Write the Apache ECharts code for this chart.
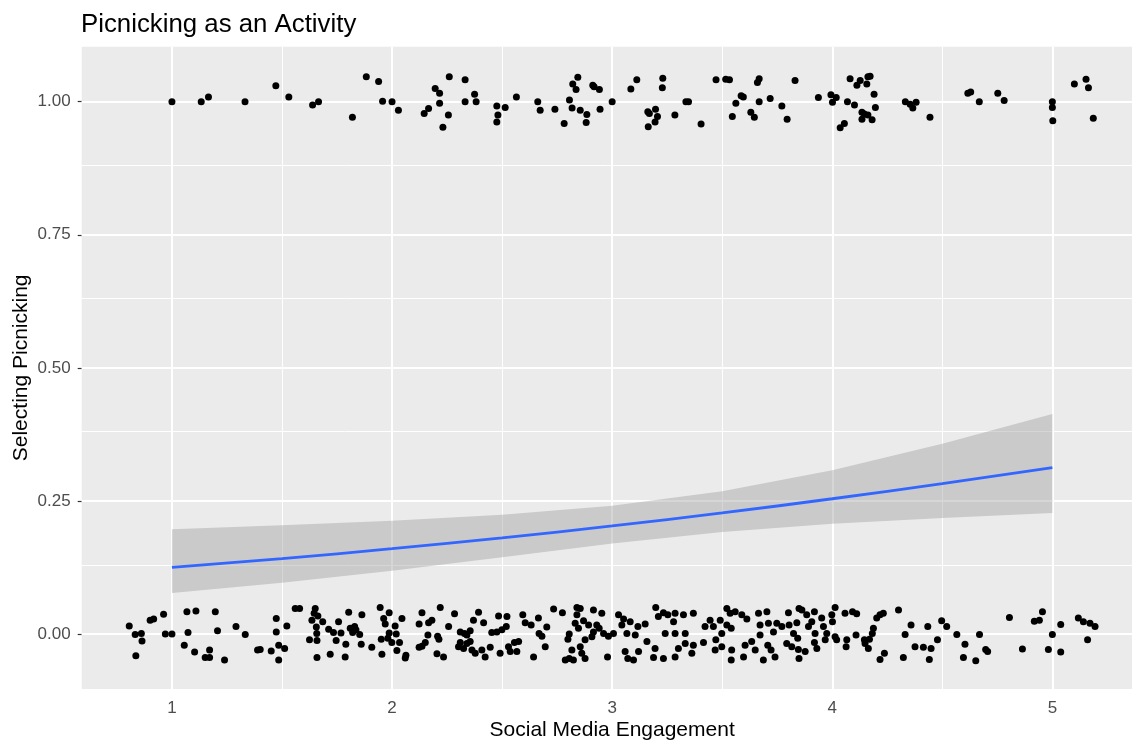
<!DOCTYPE html>
<html>
<head>
<meta charset="utf-8">
<script src="https://cdn.jsdelivr.net/npm/echarts@6/dist/echarts.min.js"></script>
<style>html,body{margin:0;padding:0;background:#fff}#c{width:1132px;height:742px}</style>
</head>
<body>
<div id="c"></div>
<script>
// ---- data ----
const titleText = 'Picnicking as an Activity';
const xTitle = 'Social Media Engagement';
const yTitle = 'Selecting Picnicking';
const xTicks = [1, 2, 3, 4, 5];
const xTickLabels = ['1', '2', '3', '4', '5'];
const yTicks = [0, 0.25, 0.5, 0.75, 1];
const yTickLabels = ['0.00', '0.25', '0.50', '0.75', '1.00'];
const xMinor = [1.5, 2.5, 3.5, 4.5];
const yMinor = [0.125, 0.375, 0.625, 0.875];

// fitted logistic curve and confidence band
const fitX = [1, 1.5, 2, 2.5, 3, 3.5, 4, 4.5, 5];
const fitY = [0.125, 0.1417, 0.1603, 0.1807, 0.2031, 0.2276, 0.2541, 0.2825, 0.3127];
const bandLow = [0.0769, 0.0961, 0.1187, 0.1443, 0.1701, 0.1916, 0.2070, 0.2181, 0.2272];
const bandHigh = [0.1970, 0.2042, 0.2129, 0.2241, 0.2409, 0.2681, 0.3078, 0.3572, 0.4132];

// jittered observations: selected picnicking (1)
const selectedPts = [
[1.000,1.000],[1.133,1.000],[1.166,1.009],[1.332,1.000],[1.472,1.030],[1.531,1.009],[1.639,0.994],[1.666,1.000],[1.820,0.971],[1.883,1.047],[1.939,1.038],[1.957,1.001],[2.000,1.000],[2.029,0.984],[2.146,0.978],[2.166,0.987],[2.196,1.025],[2.216,1.016],[2.216,0.997],[2.256,0.975],[2.231,0.952],[2.260,1.047],
[2.332,1.041],[2.332,1.000],[2.375,1.014],[2.382,1.000],[2.476,0.992],[2.481,0.975],[2.476,0.962],[2.514,0.989],[2.565,1.009],[2.662,1.000],[2.673,0.984],[2.740,0.986],[2.782,0.959],[2.806,1.003],[2.818,0.988],[2.821,1.033],[2.844,1.046],[2.836,1.023],[2.855,0.984],[2.885,0.976],[2.882,0.961],[2.912,1.031],[2.918,1.028],[2.942,1.023],[2.945,0.986],[3.000,1.000],[3.085,1.024],[3.112,1.041],[3.162,0.981],[3.169,0.978],[3.197,0.986],[3.206,0.972],[3.195,0.962],[3.164,0.953],[3.230,1.044],[3.228,1.026],[3.285,0.975],[3.335,1.000],[3.347,1.000],[3.404,0.958],[3.472,1.041],[3.516,1.042],[3.533,1.041],[3.562,0.997],[3.586,1.011],[3.596,1.009],[3.546,0.972],[3.630,0.980],[3.646,0.971],[3.660,1.036],[3.668,1.043],[3.668,1.000],[3.718,1.006],[3.771,0.992],[3.795,0.967],[3.831,1.040],[3.937,1.008],
[3.994,1.013],[4.001,0.999],[4.018,1.008],[4.036,0.951],[4.055,0.959],[4.069,1.000],[4.081,1.043],[4.101,0.994],[4.112,1.031],[4.127,1.040],[4.157,1.033],[4.162,1.047],[4.172,1.048],[4.190,1.014],[4.135,0.980],[4.146,0.977],[4.135,0.967],[4.162,0.975],[4.181,0.966],[4.196,0.989],[4.332,1.000],[4.354,0.995],[4.366,0.988],[4.381,0.999],[4.444,0.971],[4.616,1.016],[4.629,1.018],[4.668,1.000],[4.752,1.016],[4.781,1.002],[5.000,1.000],[5.000,0.989],[5.002,0.964],[5.100,1.033],[5.153,1.042],[5.164,1.026],[5.186,0.969]
];

// jittered observations: did not select picnicking (0)
const notSelectedPts = [
[0.806,0.015],[0.833,-0.001],[0.861,0.001],[0.864,-0.013],[0.836,-0.041],[0.901,0.026],[0.917,0.028],[0.962,0.037],[0.970,0.000],[1.000,0.000],[1.068,0.042],[1.109,0.043],[1.073,0.003],[1.056,-0.021],[1.103,-0.034],[1.171,-0.030],[1.151,-0.044],[1.171,-0.044],[1.197,0.042],[1.207,0.006],[1.239,-0.049],[1.291,0.014],[1.333,-0.001],[1.389,-0.030],[1.401,-0.029],[1.451,-0.032],[1.474,0.029],[1.474,0.004],[1.485,-0.021],[1.512,-0.027],[1.485,-0.049],[1.522,0.015],[1.560,0.048],[1.580,0.048],[1.651,0.048],[1.646,0.039],[1.636,0.026],[1.663,0.034],[1.656,0.013],[1.658,0.001],[1.625,-0.011],[1.659,-0.012],[1.659,-0.044],[1.685,0.023],[1.712,0.009],[1.719,-0.038],[1.734,0.003],[1.757,0.023],[1.746,-0.012],[1.768,0.002],[1.787,-0.043],[1.790,-0.019],[1.803,0.041],[1.810,0.011],[1.830,0.014],[1.821,0.003],[1.836,0.008],[1.853,-0.001],[1.863,0.036],[1.860,-0.019],[1.908,-0.025],[1.946,0.050],[1.962,0.029],[1.987,0.040],[1.969,0.019],[1.987,0.002],[1.981,-0.008],[1.999,-0.016],[2.014,0.015],[2.019,0.000],[2.034,-0.016],[2.022,-0.031],[2.045,0.029],[2.063,-0.040],[2.060,-0.045],[1.951,-0.010],[1.954,-0.038],[2.136,0.040],[2.123,0.019],[2.166,0.021],[2.181,0.026],[2.219,0.050],[2.163,-0.002],[2.207,-0.004],[2.123,-0.025],[2.136,-0.023],[2.151,-0.016],[2.204,-0.037],[2.234,-0.043],[2.213,-0.010],
[2.257,0.014],[2.284,0.038],[2.310,0.004],[2.329,0.001],[2.355,0.006],[2.340,-0.002],[2.310,-0.016],[2.302,-0.024],[2.325,-0.027],[2.340,-0.018],[2.355,-0.014],[2.363,-0.030],[2.378,-0.036],[2.393,0.041],[2.370,0.026],[2.416,0.021],[2.408,-0.030],[2.423,-0.043],[2.446,-0.025],[2.453,0.003],[2.476,0.004],[2.484,0.034],[2.491,-0.036],[2.499,0.008],[2.519,0.014],[2.522,0.033],[2.529,-0.024],[2.537,-0.033],[2.556,-0.016],[2.567,-0.033],[2.575,-0.014],[2.594,0.036],[2.605,0.021],[2.632,0.017],[2.643,-0.043],[2.665,0.030],[2.668,0.001],[2.681,-0.004],[2.696,-0.024],[2.703,0.013],[2.734,0.047],[2.774,0.040],[2.805,0.000],[2.799,-0.010],[2.787,-0.049],[2.805,-0.046],[2.824,-0.049],[2.817,-0.030],[2.840,0.050],[2.855,0.048],[2.840,0.036],[2.832,0.020],[2.847,0.011],[2.870,0.025],[2.893,0.017],[2.915,0.045],[2.877,-0.011],[2.855,-0.024],[2.862,-0.036],[2.877,-0.046],[2.908,-0.005],[2.915,0.004],[2.930,0.017],[2.941,0.011],[2.953,0.039],[2.961,0.001],[2.983,-0.004],[2.979,-0.043],[3.006,0.001],[3.029,0.036],[3.044,0.017],[3.052,0.028],[3.067,0.001],[3.082,0.023],[3.059,-0.033],[3.071,-0.046],[3.097,-0.049],[3.105,-0.002],[3.117,0.014],[3.120,-0.033],[3.150,0.019],[3.158,-0.014],[3.188,-0.044],[3.195,-0.027],[3.198,0.050],[3.210,0.033],[3.233,0.040],[3.241,0.001],[3.253,0.036],[3.279,0.023],[3.286,0.039],[3.286,0.001],[3.233,-0.046],[3.286,-0.043],[3.301,-0.027],[3.324,0.036],[3.332,0.001],[3.332,-0.018],[3.362,-0.036],[3.369,0.039],[3.369,-0.021],[3.415,-0.016],[3.445,0.026],[3.460,0.014],[3.471,-0.011],[3.468,-0.030],[3.491,0.026],[3.498,-0.024],[3.521,0.048],[3.521,0.017],[3.536,0.039],[3.541,0.011],[3.543,-0.030],[3.541,-0.049],[3.559,0.042],[3.589,0.036],[3.612,0.028],[3.604,-0.021],[3.597,-0.043],[3.634,-0.014],[3.650,-0.030],[3.665,0.039],[3.672,0.017],[3.672,-0.002],[3.687,-0.049],[3.703,0.042],[3.710,0.020],[3.707,-0.021],[3.722,-0.030],[3.733,0.004],[3.498,0.001],[3.422,0.014],
[3.748,0.020],[3.740,-0.043],[3.771,0.014],[3.801,0.040],[3.804,0.017],[3.793,-0.018],[3.816,-0.024],[3.824,0.001],[3.839,0.021],[3.849,0.048],[3.862,0.045],[3.843,-0.008],[3.846,-0.029],[3.849,-0.046],[3.877,-0.033],[3.884,0.036],[3.892,0.014],[3.907,0.023],[3.919,0.042],[3.922,0.001],[3.919,-0.016],[3.930,-0.027],[3.952,0.030],[3.960,0.014],[3.968,-0.011],[3.975,0.001],[3.998,0.036],[4.001,0.023],[4.013,0.050],[4.013,-0.005],[4.020,-0.011],[4.058,0.039],[4.092,0.042],[4.111,0.038],[4.108,-0.002],[4.066,-0.011],[4.063,-0.024],[4.146,-0.011],[4.149,-0.018],[4.164,-0.027],[4.169,-0.010],[4.182,0.001],[4.187,0.011],[4.202,0.030],[4.217,0.036],[4.232,0.039],[4.217,-0.048],[4.237,-0.036],[4.301,0.045],[4.331,-0.001],[4.358,0.017],[4.323,-0.044],[4.376,-0.024],[4.414,-0.025],[4.434,0.014],[4.449,-0.027],[4.441,-0.048],[4.478,-0.011],[4.497,0.025],[4.520,0.014],[4.566,-0.001],[4.603,-0.019],[4.596,-0.044],[4.652,-0.050],[4.669,-0.001],[4.697,-0.029],[4.706,-0.033],[4.805,0.031],[4.864,-0.028],[4.918,0.024],[4.941,0.026],[4.955,0.042],[5.000,-0.001],[4.982,-0.029],[5.038,0.018],[5.038,-0.034],[5.118,0.030],[5.141,0.023],[5.171,0.020],[5.194,0.014],[5.160,-0.011]
];

// ---- chart ----
const FONT = 'Liberation Sans, Arial, sans-serif';
const chart = echarts.init(document.getElementById('c'), null, {renderer: 'canvas'});

const gridLines = []
  .concat(yTicks.map(v => ({yAxis: v, lineStyle: {width: 2}})))
  .concat(yMinor.map(v => ({yAxis: v, lineStyle: {width: 1}})))
  .concat(xTicks.map(v => ({xAxis: v, lineStyle: {width: 2}})))
  .concat(xMinor.map(v => ({xAxis: v, lineStyle: {width: 1}})));

const option = {
  animation: false,
  textStyle: {fontFamily: FONT},
  title: {
    text: titleText, left: 81, top: 12, padding: 0,
    textStyle: {fontSize: 25.8, fontWeight: 'normal', color: '#000', fontFamily: FONT}
  },
  grid: {
    left: 81.7, top: 46.7, right: -10.6, bottom: 53,
    show: true, backgroundColor: '#EBEBEB', borderWidth: 0, containLabel: false,
    outerBoundsMode: 'none'
  },
  xAxis: {
    type: 'value', min: 0.59, max: 5.41,
    axisLine: {show: false},
    splitLine: {show: false},
    axisTick: {show: true, length: 4, customValues: xTicks, lineStyle: {color: '#333', width: 1.2}},
    axisLabel: {customValues: xTicks, margin: 11, fontSize: 17, color: '#4d4d4d', fontFamily: FONT,
      formatter: v => xTickLabels[xTicks.indexOf(v)] ?? ''},
    name: xTitle, nameLocation: 'middle', nameGap: 31, nameMoveOverlap: false,
    nameTextStyle: {fontSize: 21, color: '#000', fontFamily: FONT}
  },
  yAxis: {
    type: 'value', min: -0.1033, max: 1.1033,
    axisLine: {show: false},
    splitLine: {show: false},
    axisTick: {show: true, length: 4, customValues: yTicks, lineStyle: {color: '#333', width: 1.2}},
    axisLabel: {customValues: yTicks, margin: 11, fontSize: 17, color: '#4d4d4d', fontFamily: FONT,
      formatter: v => yTickLabels[yTicks.indexOf(v)] ?? ''},
    name: yTitle, nameLocation: 'middle', nameGap: 50, nameMoveOverlap: false,
    nameTextStyle: {fontSize: 21, color: '#000', fontFamily: FONT}
  },
  series: [
    {
      type: 'line', data: [], z: 1, silent: true,
      markLine: {silent: true, z: 1, symbol: 'none', label: {show: false},
        lineStyle: {color: '#ffffff', type: 'solid'}, data: gridLines, animation: false}
    },
    {
      type: 'custom', z: 2, silent: true,
      data: [0],
      renderItem: function (params, api) {
        const pts = [];
        for (let i = 0; i < fitX.length; i++) pts.push(api.coord([fitX[i], bandHigh[i]]));
        for (let i = fitX.length - 1; i >= 0; i--) pts.push(api.coord([fitX[i], bandLow[i]]));
        return {type: 'polygon', shape: {points: pts}, style: {fill: 'rgba(153,153,153,0.4)'}};
      }
    },
    {
      type: 'line', z: 3, silent: true, smooth: true, showSymbol: false,
      data: fitX.map((x, i) => [x, fitY[i]]),
      lineStyle: {color: '#3366FF', width: 2.8}
    },
    {
      type: 'scatter', z: 4, silent: true, symbolSize: 7,
      itemStyle: {color: '#000', opacity: 1},
      data: selectedPts
    },
    {
      type: 'scatter', z: 4, silent: true, symbolSize: 7,
      itemStyle: {color: '#000', opacity: 1},
      data: notSelectedPts
    }
  ]
};
chart.setOption(option);
</script>
</body>
</html>
